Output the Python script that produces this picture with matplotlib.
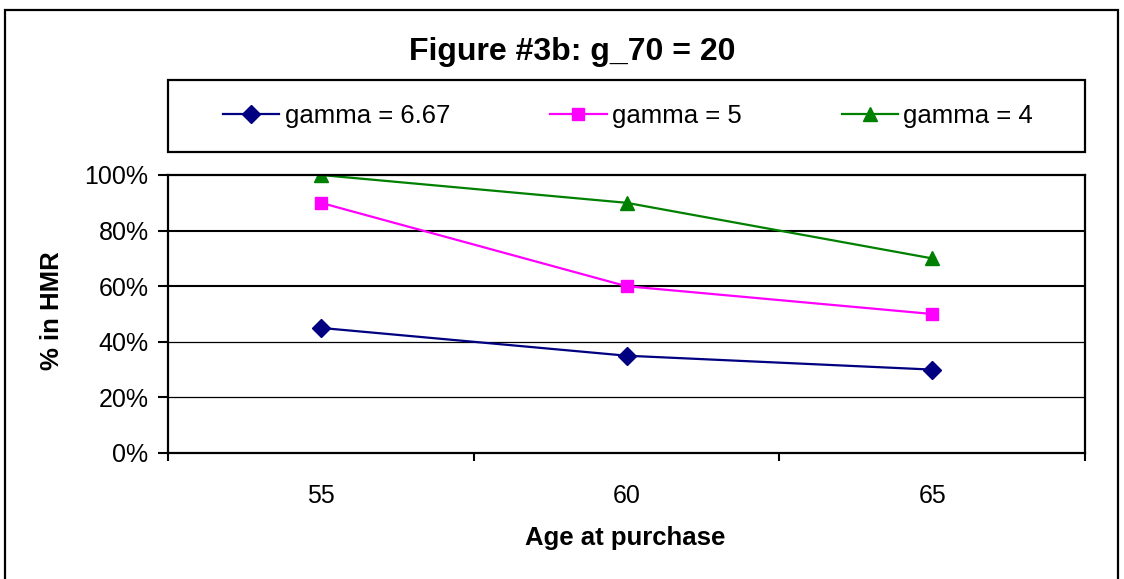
import matplotlib
matplotlib.use("Agg")
import matplotlib.pyplot as plt
from matplotlib.patches import Rectangle
from matplotlib.ticker import FixedLocator, PercentFormatter

plt.rcParams['font.family'] = ['Liberation Sans', 'DejaVu Sans']

ages = ['55', '60', '65']
gamma_667 = [45, 35, 30]
gamma_5 = [90, 60, 50]
gamma_4 = [100, 90, 70]
series_labels = ['gamma = 6.67', 'gamma = 5', 'gamma = 4']
y_ticks = [0, 20, 40, 60, 80, 100]

W, H = 1124, 579
fig = plt.figure(figsize=(W / 100, H / 100), dpi=100)
fig.patch.set_facecolor('white')

# plot area in pixel terms
left, right, top, bottom = 168, 1085, 175, 453
ax = fig.add_axes([left / W, 1 - bottom / H, (right - left) / W, (bottom - top) / H])

x = list(range(len(ages)))
ax.plot(x, gamma_667, color='#000080', lw=1.6, marker='D', ms=9, label=series_labels[0])
ax.plot(x, gamma_5, color='#FF00FF', lw=1.6, marker='s', ms=9, label=series_labels[1])
ax.plot(x, gamma_4, color='#008000', lw=1.6, marker='^', ms=10.5, label=series_labels[2])

ax.set_xlim(-0.5, len(ages) - 0.5)
ax.set_ylim(0, 100)

# horizontal gridlines
for v in y_ticks[1:-1]:
    ax.axhline(v, color='black', lw=1.5 if v >= 60 else 0.9, zorder=0)

for s in ax.spines.values():
    s.set_linewidth(1.6)
    s.set_color('black')

ax.set_yticks(y_ticks)
ax.yaxis.set_major_formatter(PercentFormatter(decimals=0))
ax.tick_params(axis='y', direction='out', length=7, width=1.5, pad=7, labelsize=18)

# category boundaries as ticks, labels centred between them
ax.xaxis.set_major_locator(FixedLocator([i - 0.5 for i in range(len(ages) + 1)]))
ax.xaxis.set_minor_locator(FixedLocator(x))
ax.set_xticklabels([], minor=False)
ax.set_xticklabels(ages, minor=True)
ax.tick_params(axis='x', which='major', direction='out', length=6, width=1.5)
ax.tick_params(axis='x', which='minor', length=0, pad=22, labelsize=18)

fig.text(572 / W, 1 - 52 / H, 'Figure #3b: g_70 = 20', ha='center', va='center',
         fontsize=23, fontweight='bold')
fig.text(52 / W, 1 - 311 / H, '% in HMR', ha='center', va='center', rotation=90,
         fontsize=18.5, fontweight='bold')
fig.text(625 / W, 1 - 538 / H, 'Age at purchase', ha='center', va='center',
         fontsize=18.5, fontweight='bold')

# legend box
fig.patches.append(Rectangle((168 / W, 1 - 152 / H), (1085 - 168) / W, 72 / H,
                             transform=fig.transFigure, fill=False, ec='black', lw=1.6))
handles, labels = ax.get_legend_handles_labels()
fig.legend(handles, labels, loc='center', bbox_to_anchor=(628 / W, 1 - 116 / H),
           ncol=3, frameon=False, fontsize=18.5, handlelength=2.2, handletextpad=0.2,
           columnspacing=3.9, borderpad=0)

# outer chart border
fig.patches.append(Rectangle((5 / W, -0.02), 1113 / W, 1 - 10 / H + 0.02,
                             transform=fig.transFigure, fill=False, ec='black', lw=1.6))

fig.savefig('out.png', dpi=100)
